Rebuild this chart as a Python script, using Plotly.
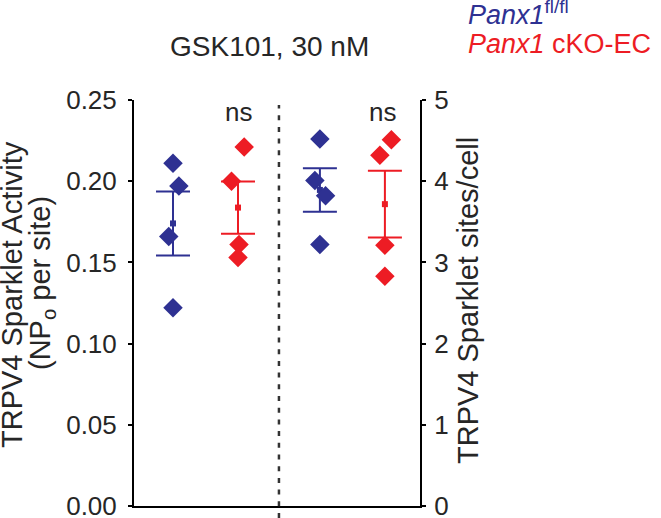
import numpy as np
import plotly.graph_objects as go

# ---------------- data ----------------
group_names = ["Panx1 fl/fl", "Panx1 cKO-EC"]
activity_flfl = [0.211, 0.197, 0.166, 0.122]     # NPo per site (left axis)
activity_cko = [0.221, 0.200, 0.161, 0.153]
sites_flfl = [4.52, 4.01, 3.82, 3.22]            # sites/cell (right axis)
sites_cko = [4.51, 4.32, 3.21, 2.83]
left_tickvals = [0.00, 0.05, 0.10, 0.15, 0.20, 0.25]
left_ticktext = ["0.00", "0.05", "0.10", "0.15", "0.20", "0.25"]
right_tickvals = [0, 1, 2, 3, 4, 5]
right_ticktext = ["0", "1", "2", "3", "4", "5"]
sig_labels = ["ns", "ns"]
title_text = "GSK101, 30 nM"

# ---------------- layout / style ----------------
BLUE = "#2E3192"
RED = "#ED1C24"
TXT = "#262626"
FONT = "Liberation Sans, Arial, Helvetica, sans-serif"

W, H = 661, 518
ML, MR, MT, MB = 134, 241, 100, 12
PW, PH = W - ML - MR, H - MT - MB

def px_x(px):
    return (px - ML) / PW

def px_y(py):
    return (H - MB - py) / PH

# group centres on the x axis, and small horizontal offsets of the points
positions = [1.0, 2.0, 3.26, 4.26]
jitters = [
    [0.0, 0.09, -0.065, 0.0],
    [0.095, -0.10, 0.015, 0.0],
    [0.0, -0.077, 0.087, 0.0],
    [0.10, -0.077, 0.0, 0.0],
]
series = [activity_flfl, activity_cko, sites_flfl, sites_cko]
colors = [BLUE, RED, BLUE, RED]
axes = ["y", "y", "y2", "y2"]

fig = go.Figure()

for vals, pos, jit, col, ax in zip(series, positions, jitters, colors, axes):
    v = np.array(vals, dtype=float)
    mean = v.mean()
    sem = v.std(ddof=1) / np.sqrt(len(v))
    # mean +/- SEM
    fig.add_trace(go.Scatter(
        x=[pos], y=[mean], mode="markers", yaxis=ax,
        marker=dict(symbol="square", size=6, color=col),
        error_y=dict(type="data", array=[sem], visible=True,
                     color=col, thickness=2, width=17),
        showlegend=False, hoverinfo="skip", cliponaxis=False,
    ))
    # individual points
    fig.add_trace(go.Scatter(
        x=[pos + j for j in jit], y=v, mode="markers", yaxis=ax,
        marker=dict(symbol="diamond", size=15, color=col, line=dict(width=0)),
        showlegend=False, cliponaxis=False,
    ))

axis_common = dict(
    showline=True, linecolor="black", linewidth=2,
    ticks="outside", ticklen=4, tickwidth=2, tickcolor="black",
    showgrid=False, zeroline=False, ticklabeloverflow="allow", automargin=False,
    tickfont=dict(family=FONT, size=26, color=TXT),
)

fig.update_layout(
    width=W, height=H,
    margin=dict(l=ML, r=MR, t=MT, b=MB, pad=0, autoexpand=False),
    plot_bgcolor="white", paper_bgcolor="white",
    showlegend=False,
    font=dict(family=FONT, color=TXT),
    xaxis=dict(range=[0.4, 4.8], showline=True, linecolor="black", linewidth=2,
               showticklabels=False, ticks="", showgrid=False, zeroline=False,
               automargin=False, fixedrange=True),
    yaxis=dict(range=[0, 0.25], tickvals=left_tickvals, ticktext=left_ticktext,
               ticklabelstandoff=6, **axis_common),
    yaxis2=dict(range=[0, 5], tickvals=right_tickvals, ticktext=right_ticktext,
                overlaying="y", side="right", ticklabelstandoff=3, **axis_common),
)

# dashed separator between the two measurements
fig.add_shape(type="line", xref="x", yref="paper",
              x0=(positions[1] + positions[2]) / 2, x1=(positions[1] + positions[2]) / 2,
              y0=px_y(518), y1=px_y(105),
              line=dict(color="#333333", width=2.5, dash="5px,6.7px"))

ann = []
# title
ann.append(dict(text=title_text, x=px_x(269), y=px_y(46), xref="paper", yref="paper",
                xanchor="center", yanchor="middle", showarrow=False,
                font=dict(family=FONT, size=28, color=TXT)))
# significance labels
ann.append(dict(text=sig_labels[0], x=positions[1], y=px_y(112), xref="x", yref="paper",
                xanchor="center", yanchor="middle", showarrow=False,
                font=dict(family=FONT, size=26, color=TXT)))
ann.append(dict(text=sig_labels[1], x=positions[3] - 0.04, y=px_y(112), xref="x", yref="paper",
                xanchor="center", yanchor="middle", showarrow=False,
                font=dict(family=FONT, size=26, color=TXT)))
# legend text
ann.append(dict(text="<i>Panx1</i><sup>fl/fl</sup>", x=px_x(466), y=px_y(13),
                xref="paper", yref="paper", xanchor="left", yanchor="middle",
                showarrow=False, font=dict(family=FONT, size=27, color=BLUE)))
ann.append(dict(text="<i>Panx1</i> cKO-EC", x=px_x(466), y=px_y(44),
                xref="paper", yref="paper", xanchor="left", yanchor="middle",
                showarrow=False, font=dict(family=FONT, size=27, color=RED)))
# axis titles
ann.append(dict(text="TRPV4 Sparklet Activity", x=px_x(12), y=px_y(295),
                xref="paper", yref="paper", xanchor="center", yanchor="middle",
                textangle=-90, showarrow=False,
                font=dict(family=FONT, size=29, color=TXT)))
ann.append(dict(text="(NP<sub>o</sub> per site)", x=px_x(42), y=px_y(283),
                xref="paper", yref="paper", xanchor="center", yanchor="middle",
                textangle=-90, showarrow=False,
                font=dict(family=FONT, size=29, color=TXT)))
ann.append(dict(text="TRPV4 Sparklet sites/cell", x=px_x(468), y=px_y(301),
                xref="paper", yref="paper", xanchor="center", yanchor="middle",
                textangle=-90, showarrow=False,
                font=dict(family=FONT, size=29, color=TXT)))

fig.update_layout(annotations=ann)

fig.write_html(
    "out.html",
    config={"displayModeBar": False, "staticPlot": True},
    post_script="document.body.style.margin='0px';document.body.style.overflow='hidden';",
)
